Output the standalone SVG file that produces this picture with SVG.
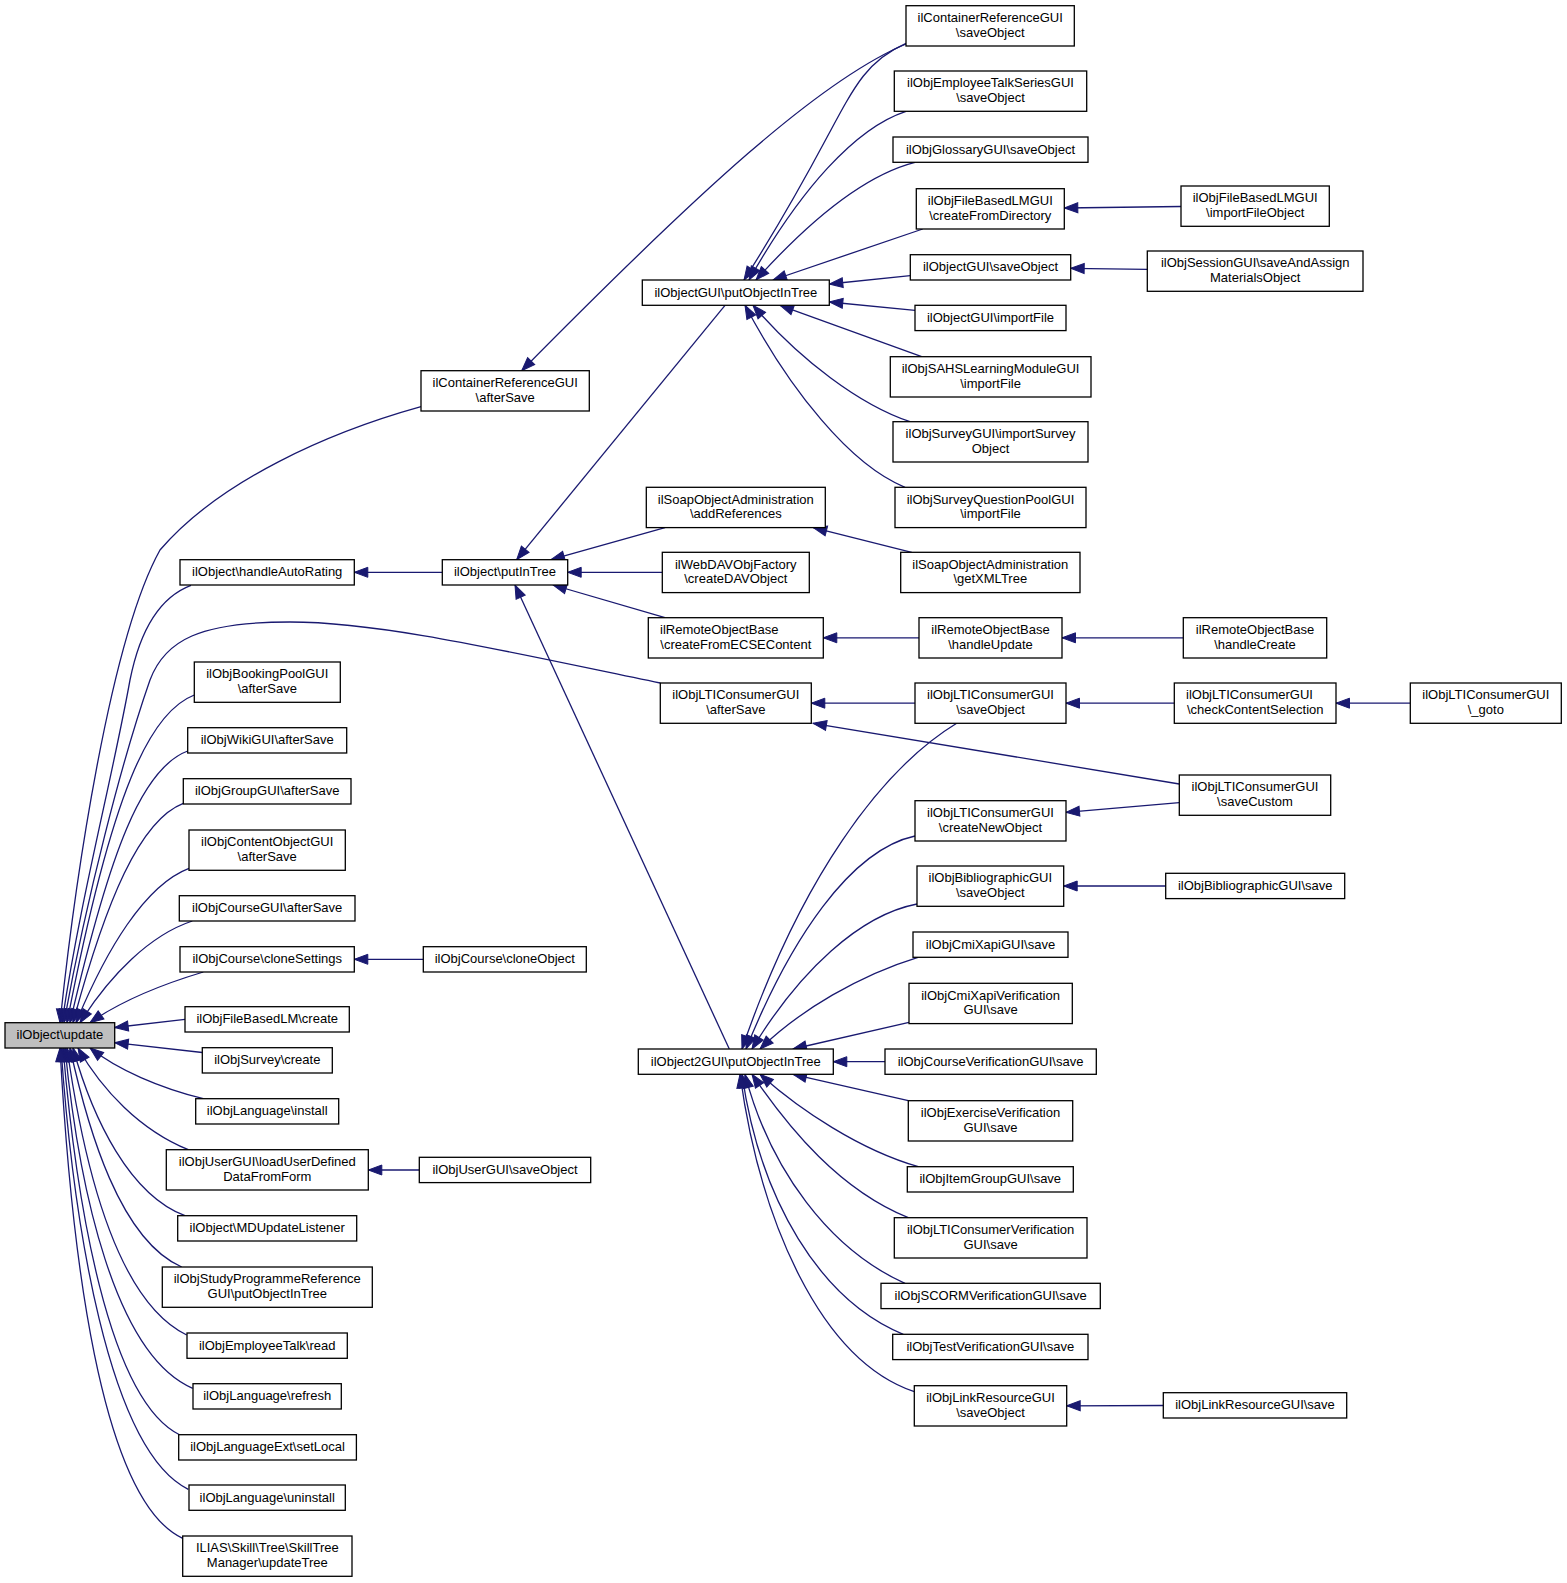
<svg xmlns="http://www.w3.org/2000/svg" width="1567" height="1583" viewBox="0 0 1567 1583">
<style>
.n rect{fill:#ffffff;stroke:#000000;stroke-width:1.3}
.hl rect{fill:#bfbfbf}
text{font-family:"Liberation Sans",Arial,Helvetica,sans-serif;font-size:13px;fill:#000000;text-anchor:middle}
text.l{text-anchor:start}
.e path{fill:none;stroke:#191970;stroke-width:1.3;marker-end:url(#ah)}
</style>
<defs>
<marker id="ah" markerUnits="userSpaceOnUse" markerWidth="16" markerHeight="12" refX="13.5" refY="5" orient="auto" overflow="visible">
<path d="M0,0 L13.5,5 L0,10 Z" fill="#191970" stroke="#191970" stroke-width="1"/>
</marker>
</defs>
<rect x="0" y="0" width="1567" height="1583" fill="#ffffff"/>
<g id="connectors" class="e">
<path d="M421,406.7 C330,432 220,480 160,550 C110,640 75,880 60,1022.7"/>
<path d="M191,585.3 C160,597 140,630 130,680 C112,780 80,900 62,1022.7"/>
<path d="M660.3,683 C500,650 380,622 290,622 C200,622 165,640 150,680 C122,760 86,900 64,1022.7"/>
<path d="M194.3,695 C150,712 112,790 67,1022.7"/>
<path d="M187.7,751 C142,768 110,850 70,1022.7"/>
<path d="M183.3,803.3 C140,820 106,900 73,1022.7"/>
<path d="M189,868.3 C145,885 106,950 76,1022.7"/>
<path d="M192.3,921 C150,935 110,975 80,1022.7"/>
<path d="M203.3,972 C160,985 118,1003 90,1022.7"/>
<path d="M185,1019.4 L114.7,1027.5"/>
<path d="M202.3,1052.5 L114.7,1042.7"/>
<path d="M203.3,1098.7 C160,1088 118,1070 90,1048"/>
<path d="M188.3,1149.7 C140,1130 102,1090 78,1048"/>
<path d="M185,1215.7 C130,1195 93,1120 73,1048"/>
<path d="M181.7,1267 C120,1240 88,1130 70,1048"/>
<path d="M186.7,1335 C115,1300 83,1160 67,1048"/>
<path d="M192.7,1388.3 C115,1355 79,1190 65,1048"/>
<path d="M180,1435 C108,1400 76,1200 63,1048"/>
<path d="M188.3,1489.3 C108,1450 73,1220 61,1048"/>
<path d="M182.7,1538.3 C100,1500 71,1250 60,1048"/>
<path d="M442.3,572.3 L354.3,572.3"/>
<path d="M423.3,959.3 L354.3,959.3"/>
<path d="M419.3,1170 L368.3,1170"/>
<path d="M906,44 C820,80 700,190 521.7,370.7"/>
<path d="M725,305.3 L516.7,559.7"/>
<path d="M665,527.6 L551,559.7"/>
<path d="M662.3,572.3 L567.7,572.3"/>
<path d="M665,617.7 L553,585"/>
<path d="M729.3,1049 L515,585"/>
<path d="M915,703.2 L811.3,703.2"/>
<path d="M1179.3,784 L813,723.3"/>
<path d="M919,637.8 L823.3,637.8"/>
<path d="M911.7,552.3 L813.3,527.6"/>
<path d="M1183.3,637.8 L1062,637.8"/>
<path d="M1174.3,703.2 L1066,703.2"/>
<path d="M1410.3,703.2 L1336,703.2"/>
<path d="M1179.3,802.7 L1066,812.3"/>
<path d="M1165.7,886 L1063.7,886"/>
<path d="M1163.3,1405.5 L1066.7,1405.8"/>
<path d="M1181,206.5 L1064.3,208"/>
<path d="M1147.3,269.3 L1070.7,268.3"/>
<path d="M906,43.3 C845,70 850,115 744,280"/>
<path d="M906,111.3 C855,128 800,190 749,280"/>
<path d="M915,162.3 C865,175 810,220 756,280"/>
<path d="M922.7,229 L773,280"/>
<path d="M910.3,275.7 L829.3,284"/>
<path d="M915,310.3 L829.3,302"/>
<path d="M921.7,356.7 L780,305.3"/>
<path d="M910,421.7 C860,405 800,360 753,305.3"/>
<path d="M905,487.3 C850,465 790,390 745,305.3"/>
<path d="M956.7,723.3 C880,770 800,880 742,1049"/>
<path d="M915,836 C850,850 790,940 746,1049"/>
<path d="M917,904 C860,915 800,970 752,1049"/>
<path d="M918,957.3 C860,975 800,1010 760,1049"/>
<path d="M909,1022.3 L793,1049"/>
<path d="M885,1061.7 L833.3,1061.7"/>
<path d="M908.3,1100.7 L793,1074.3"/>
<path d="M918.3,1166.7 C860,1150 800,1110 760,1074.3"/>
<path d="M908.3,1217.7 C840,1190 790,1130 752,1074.3"/>
<path d="M905,1283.3 C830,1250 770,1170 745,1074.3"/>
<path d="M903.3,1334.3 C820,1300 760,1200 742,1074.3"/>
<path d="M914.3,1391.7 C820,1360 760,1220 740,1074.3"/>
</g>
<g id="n_update" class="n hl"><rect x="5" y="1022.7" width="109.7" height="25.3"/><text x="59.9" y="1039.4">ilObject\update</text></g>
<g id="n_handleAutoRating" class="n"><rect x="180" y="559.7" width="174.3" height="25.3"/><text x="267.2" y="576.4">ilObject\handleAutoRating</text></g>
<g id="n_bookingPool" class="n"><rect x="194.3" y="662" width="146" height="40.3"/><text x="267.3" y="678.2">ilObjBookingPoolGUI</text><text x="267.3" y="693">\afterSave</text></g>
<g id="n_wiki" class="n"><rect x="187.7" y="727.7" width="159" height="25.3"/><text x="267.2" y="744.4">ilObjWikiGUI\afterSave</text></g>
<g id="n_group" class="n"><rect x="183.3" y="778.7" width="167.7" height="25.3"/><text x="267.2" y="795.4">ilObjGroupGUI\afterSave</text></g>
<g id="n_contentObject" class="n"><rect x="189" y="830" width="156.3" height="40.3"/><text x="267.2" y="846.2">ilObjContentObjectGUI</text><text x="267.2" y="861">\afterSave</text></g>
<g id="n_courseGUI" class="n"><rect x="179.3" y="895.7" width="175.7" height="25.3"/><text x="267.2" y="912.4">ilObjCourseGUI\afterSave</text></g>
<g id="n_cloneSettings" class="n"><rect x="180" y="946.7" width="174.3" height="25.3"/><text x="267.2" y="963.4">ilObjCourse\cloneSettings</text></g>
<g id="n_fileBasedLMCreate" class="n"><rect x="185" y="1006.7" width="164.3" height="25.3"/><text x="267.2" y="1023.4">ilObjFileBasedLM\create</text></g>
<g id="n_surveyCreate" class="n"><rect x="202.3" y="1047.7" width="130" height="25.3"/><text x="267.3" y="1064.4">ilObjSurvey\create</text></g>
<g id="n_languageInstall" class="n"><rect x="195.7" y="1098.7" width="143" height="25.3"/><text x="267.2" y="1115.4">ilObjLanguage\install</text></g>
<g id="n_loadUserDefined" class="n"><rect x="166.3" y="1149.7" width="202" height="40.3"/><text x="267.3" y="1165.9">ilObjUserGUI\loadUserDefined</text><text x="267.3" y="1180.7">DataFromForm</text></g>
<g id="n_mdUpdateListener" class="n"><rect x="177.7" y="1215.7" width="179" height="25.3"/><text x="267.2" y="1232.4">ilObject\MDUpdateListener</text></g>
<g id="n_studyProgramme" class="n"><rect x="162.3" y="1267" width="210" height="40.3"/><text x="267.3" y="1283.2">ilObjStudyProgrammeReference</text><text x="267.3" y="1298">GUI\putObjectInTree</text></g>
<g id="n_employeeTalkRead" class="n"><rect x="187" y="1333" width="160.3" height="25.3"/><text x="267.2" y="1349.7">ilObjEmployeeTalk\read</text></g>
<g id="n_languageRefresh" class="n"><rect x="193" y="1383.7" width="148.3" height="25.3"/><text x="267.2" y="1400.4">ilObjLanguage\refresh</text></g>
<g id="n_setLocal" class="n"><rect x="178.7" y="1434.7" width="177.7" height="25.3"/><text x="267.5" y="1451.4">ilObjLanguageExt\setLocal</text></g>
<g id="n_languageUninstall" class="n"><rect x="189" y="1485" width="156.3" height="25.3"/><text x="267.2" y="1501.7">ilObjLanguage\uninstall</text></g>
<g id="n_skillTree" class="n"><rect x="182.7" y="1536" width="169.3" height="40.3"/><text x="267.3" y="1552.2">ILIAS\Skill\Tree\SkillTree</text><text x="267.3" y="1567">Manager\updateTree</text></g>
<g id="n_containerRefAfterSave" class="n"><rect x="421" y="370.7" width="168.3" height="40.3"/><text x="505.2" y="386.9">ilContainerReferenceGUI</text><text x="505.2" y="401.7">\afterSave</text></g>
<g id="n_putInTree" class="n"><rect x="442.3" y="559.7" width="125.4" height="25.3"/><text x="505" y="576.4">ilObject\putInTree</text></g>
<g id="n_cloneObject" class="n"><rect x="423.3" y="946.7" width="163" height="25.3"/><text x="504.8" y="963.4">ilObjCourse\cloneObject</text></g>
<g id="n_userSaveObject" class="n"><rect x="419.3" y="1157.3" width="171.4" height="25.3"/><text x="505" y="1174">ilObjUserGUI\saveObject</text></g>
<g id="n_objectGUIPutObjectInTree" class="n"><rect x="642.3" y="280" width="187" height="25.3"/><text x="735.8" y="296.7">ilObjectGUI\putObjectInTree</text></g>
<g id="n_addReferences" class="n"><rect x="646.3" y="487.3" width="179" height="40.3"/><text x="735.8" y="503.5">ilSoapObjectAdministration</text><text x="735.8" y="518.3">\addReferences</text></g>
<g id="n_webdav" class="n"><rect x="662.3" y="552.3" width="147" height="40.3"/><text x="735.8" y="568.5">ilWebDAVObjFactory</text><text x="735.8" y="583.3">\createDAVObject</text></g>
<g id="n_createFromECSE" class="n"><rect x="648.3" y="617.7" width="175" height="40.3"/><text class="l" x="660" y="633.9">ilRemoteObjectBase</text><text x="735.8" y="648.7">\createFromECSEContent</text></g>
<g id="n_ltiAfterSave" class="n"><rect x="660.3" y="683" width="151" height="40.3"/><text x="735.8" y="699.2">ilObjLTIConsumerGUI</text><text x="735.8" y="714">\afterSave</text></g>
<g id="n_object2GUI" class="n"><rect x="638.3" y="1049" width="195" height="25.3"/><text x="735.8" y="1065.7">ilObject2GUI\putObjectInTree</text></g>
<g id="n_containerRefSaveObject" class="n"><rect x="906" y="5.7" width="168.3" height="40.3"/><text x="990.2" y="21.9">ilContainerReferenceGUI</text><text x="990.2" y="36.7">\saveObject</text></g>
<g id="n_employeeTalkSeries" class="n"><rect x="894.3" y="71" width="192.4" height="40.3"/><text x="990.5" y="87.2">ilObjEmployeeTalkSeriesGUI</text><text x="990.5" y="102">\saveObject</text></g>
<g id="n_glossary" class="n"><rect x="893" y="137" width="195" height="25.3"/><text x="990.5" y="153.7">ilObjGlossaryGUI\saveObject</text></g>
<g id="n_createFromDirectory" class="n"><rect x="916.3" y="188.7" width="148" height="40.3"/><text x="990.3" y="204.9">ilObjFileBasedLMGUI</text><text x="990.3" y="219.7">\createFromDirectory</text></g>
<g id="n_objectGUISaveObject" class="n"><rect x="910.3" y="254.7" width="160.4" height="25.3"/><text x="990.5" y="271.4">ilObjectGUI\saveObject</text></g>
<g id="n_objectGUIImportFile" class="n"><rect x="915" y="305.3" width="151" height="25.3"/><text x="990.5" y="322">ilObjectGUI\importFile</text></g>
<g id="n_sahs" class="n"><rect x="890.3" y="356.7" width="200.7" height="40.3"/><text x="990.6" y="372.9">ilObjSAHSLearningModuleGUI</text><text x="990.6" y="387.7">\importFile</text></g>
<g id="n_surveyGUI" class="n"><rect x="893" y="421.7" width="195" height="40.3"/><text x="990.5" y="437.9">ilObjSurveyGUI\importSurvey</text><text x="990.5" y="452.7">Object</text></g>
<g id="n_surveyQuestionPool" class="n"><rect x="895" y="487.3" width="191" height="40.3"/><text x="990.5" y="503.5">ilObjSurveyQuestionPoolGUI</text><text x="990.5" y="518.3">\importFile</text></g>
<g id="n_getXMLTree" class="n"><rect x="900.7" y="552.3" width="179.3" height="40.3"/><text x="990.3" y="568.5">ilSoapObjectAdministration</text><text x="990.3" y="583.3">\getXMLTree</text></g>
<g id="n_handleUpdate" class="n"><rect x="919" y="617.7" width="143" height="40.3"/><text x="990.5" y="633.9">ilRemoteObjectBase</text><text x="990.5" y="648.7">\handleUpdate</text></g>
<g id="n_ltiSaveObject" class="n"><rect x="915" y="683" width="151" height="40.3"/><text x="990.5" y="699.2">ilObjLTIConsumerGUI</text><text x="990.5" y="714">\saveObject</text></g>
<g id="n_ltiCreateNewObject" class="n"><rect x="915" y="800.7" width="151" height="40.3"/><text x="990.5" y="816.9">ilObjLTIConsumerGUI</text><text x="990.5" y="831.7">\createNewObject</text></g>
<g id="n_bibliographicSaveObject" class="n"><rect x="917" y="866" width="146.7" height="40.3"/><text x="990.3" y="882.2">ilObjBibliographicGUI</text><text x="990.3" y="897">\saveObject</text></g>
<g id="n_cmiXapiSave" class="n"><rect x="913" y="932" width="155" height="25.3"/><text x="990.5" y="948.7">ilObjCmiXapiGUI\save</text></g>
<g id="n_cmiXapiVerification" class="n"><rect x="909" y="983.3" width="163.3" height="40.3"/><text x="990.6" y="999.5">ilObjCmiXapiVerification</text><text x="990.6" y="1014.3">GUI\save</text></g>
<g id="n_courseVerification" class="n"><rect x="885" y="1049" width="211.3" height="25.3"/><text x="990.6" y="1065.7">ilObjCourseVerificationGUI\save</text></g>
<g id="n_exerciseVerification" class="n"><rect x="908.3" y="1100.7" width="164.4" height="40.3"/><text x="990.5" y="1116.9">ilObjExerciseVerification</text><text x="990.5" y="1131.7">GUI\save</text></g>
<g id="n_itemGroup" class="n"><rect x="907.3" y="1166.7" width="166" height="25.3"/><text x="990.3" y="1183.4">ilObjItemGroupGUI\save</text></g>
<g id="n_ltiVerification" class="n"><rect x="894.3" y="1217.7" width="192.7" height="40.3"/><text x="990.6" y="1233.9">ilObjLTIConsumerVerification</text><text x="990.6" y="1248.7">GUI\save</text></g>
<g id="n_scormVerification" class="n"><rect x="881" y="1283.3" width="219.3" height="25.3"/><text x="990.6" y="1300">ilObjSCORMVerificationGUI\save</text></g>
<g id="n_testVerification" class="n"><rect x="892.7" y="1334.3" width="195.3" height="25.3"/><text x="990.3" y="1351">ilObjTestVerificationGUI\save</text></g>
<g id="n_linkResourceSaveObject" class="n"><rect x="914.3" y="1385.7" width="152.4" height="40.3"/><text x="990.5" y="1401.9">ilObjLinkResourceGUI</text><text x="990.5" y="1416.7">\saveObject</text></g>
<g id="n_importFileObject" class="n"><rect x="1181" y="186" width="148.3" height="40.3"/><text x="1255.2" y="202.2">ilObjFileBasedLMGUI</text><text x="1255.2" y="217">\importFileObject</text></g>
<g id="n_saveAndAssign" class="n"><rect x="1147.3" y="251" width="215.7" height="40.3"/><text x="1255.2" y="267.2">ilObjSessionGUI\saveAndAssign</text><text x="1255.2" y="282">MaterialsObject</text></g>
<g id="n_handleCreate" class="n"><rect x="1183.3" y="617.7" width="143.4" height="40.3"/><text x="1255" y="633.9">ilRemoteObjectBase</text><text x="1255" y="648.7">\handleCreate</text></g>
<g id="n_checkContentSelection" class="n"><rect x="1174.3" y="683" width="161.7" height="40.3"/><text class="l" x="1186" y="699.2">ilObjLTIConsumerGUI</text><text x="1255.2" y="714">\checkContentSelection</text></g>
<g id="n_saveCustom" class="n"><rect x="1179.3" y="775" width="151.4" height="40.3"/><text x="1255" y="791.2">ilObjLTIConsumerGUI</text><text x="1255" y="806">\saveCustom</text></g>
<g id="n_bibliographicSave" class="n"><rect x="1165.7" y="873.3" width="179" height="25.3"/><text x="1255.2" y="890">ilObjBibliographicGUI\save</text></g>
<g id="n_linkResourceSave" class="n"><rect x="1163.3" y="1392.7" width="183.4" height="25.3"/><text x="1255" y="1409.4">ilObjLinkResourceGUI\save</text></g>
<g id="n_goto" class="n"><rect x="1410.3" y="683" width="151" height="40.3"/><text x="1485.8" y="699.2">ilObjLTIConsumerGUI</text><text x="1485.8" y="714">\_goto</text></g>
</svg>
